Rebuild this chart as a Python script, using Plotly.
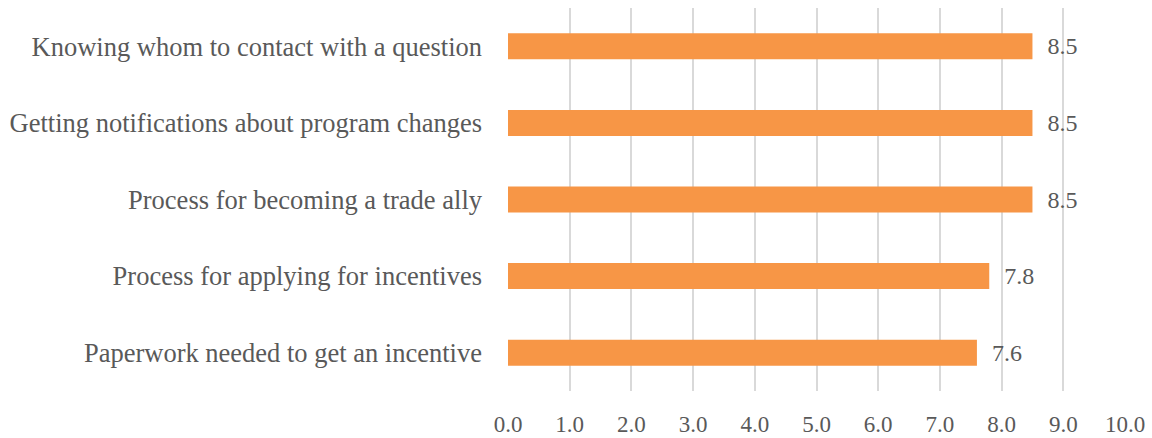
import plotly.graph_objects as go

categories = [
    "Paperwork needed to get an incentive",
    "Process for applying for incentives",
    "Process for becoming a trade ally",
    "Getting notifications about program changes",
    "Knowing whom to contact with a question",
]
scores = [7.6, 7.8, 8.5, 8.5, 8.5]
x_ticks = [0, 1, 2, 3, 4, 5, 6, 7, 8, 9, 10]
x_tick_labels = [f"{v:.1f}" for v in x_ticks]

FONT = "Liberation Serif"
GREY = "#595959"

fig = go.Figure(
    go.Bar(
        y=categories,
        x=scores,
        orientation="h",
        marker=dict(color="#F79646", line=dict(width=0)),
        text=[f"{v:.1f}" for v in scores],
        texttemplate="  %{text}",
        textposition="outside",
        textfont=dict(family=FONT, size=24, color=GREY),
        cliponaxis=False,
    )
)

fig.update_layout(
    width=1152,
    height=438,
    margin=dict(l=508, r=27, t=8, b=47),
    paper_bgcolor="white",
    plot_bgcolor="white",
    bargap=0.66,
    showlegend=False,
    font=dict(family=FONT, color=GREY),
)

fig.update_xaxes(
    range=[0, 10],
    tickvals=x_ticks,
    ticktext=x_tick_labels,
    showgrid=True,
    gridcolor="#D9D9D9",
    gridwidth=1.5,
    zeroline=False,
    showline=False,
    tickfont=dict(family=FONT, size=23, color=GREY),
    ticklabelstandoff=17,
    automargin=False,
)

fig.update_yaxes(
    showgrid=False,
    zeroline=False,
    showline=False,
    tickfont=dict(family=FONT, size=26.5, color=GREY),
    ticklabelstandoff=25,
    automargin=False,
)

fig.write_html("out.html")
